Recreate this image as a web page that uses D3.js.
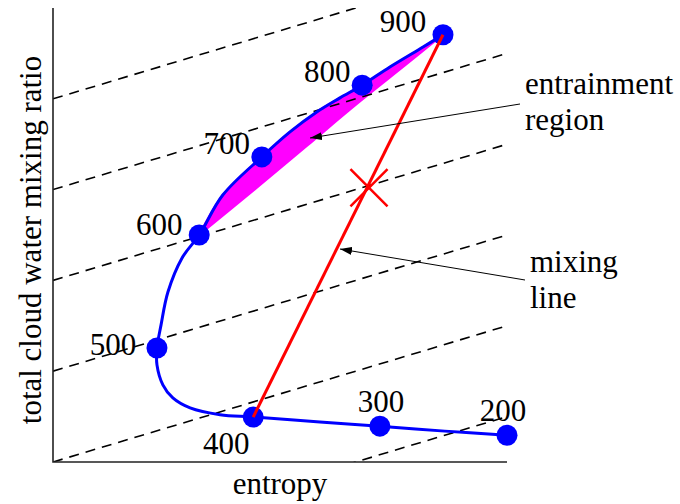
<!DOCTYPE html>
<html>
<head>
<meta charset="utf-8">
<script src="https://cdn.jsdelivr.net/npm/d3@7"></script>
<style>
  body { margin: 0; background: #fff; }
  svg text { font-family: "Liberation Serif", "Times New Roman", serif; fill: #000; }
</style>
</head>
<body>
<svg id="chart" width="680" height="504"></svg>
<script>
// pressure levels marked along the parcel path (entropy, total water), arbitrary units 0..10
const levels = [900, 800, 700, 600, 500, 400, 300, 200];
const levelEntropy = [8.59, 6.81, 4.60, 3.22, 2.29, 4.41, 7.20, 10.0];
const levelWater = [9.41, 8.30, 6.72, 5.00, 2.51, 0.99, 0.79, 0.59];

// the full traced path, from 900 down to 200
const pathEntropy = [8.59, 8.15, 7.42, 6.81, 6.32, 5.81, 5.22, 4.60, 3.74, 3.22,
  2.84, 2.53, 2.38, 2.29, 2.29, 2.42, 2.64, 3.02, 3.68, 4.41, 5.88, 7.20, 8.63, 10.0];
const pathWater = [9.41, 9.14, 8.70, 8.30, 8.02, 7.71, 7.27, 6.72, 5.88, 5.00,
  4.49, 3.74, 3.02, 2.51, 2.14, 1.70, 1.41, 1.19, 1.04, 0.99, 0.88, 0.79, 0.68, 0.59];

// lower edge of the entrainment region, from 600 up to 900
const regionEntropy = [3.22, 4.49, 5.59, 6.70, 7.80, 8.59];
const regionWater = [5.00, 6.04, 6.96, 7.89, 8.77, 9.41];

// mixed parcel on the mixing line
const mixPoint = [6.96, 6.04];

// background dashed lines: water = slope * entropy + intercept
const guideSlope = 0.3;
const guideIntercepts = [-2, 0, 2, 4, 6, 8];

const svg = d3.select('#chart');
const x = d3.scaleLinear().domain([0, 10]).range([53, 507]);
const y = d3.scaleLinear().domain([0, 10]).range([462, 8]);

const pathData = pathEntropy.map((e, i) => [e, pathWater[i]]);
const line = d3.line().x(d => x(d[0])).y(d => y(d[1])).curve(d3.curveCatmullRom.alpha(0.5));

svg.append('clipPath').attr('id', 'plot-clip')
  .append('rect')
  .attr('x', x(0)).attr('y', y(10))
  .attr('width', x(10) - x(0)).attr('height', y(0) - y(10));

// entrainment region: upper path 600 -> 900 plus lower edge back
let upper = pathData.slice(0, 10).reverse();
let lower = regionEntropy.map((e, i) => [e, regionWater[i]]).reverse();
let regionPath = line(upper) + 'L' + line(lower).slice(1) + 'Z';
svg.append('path')
  .attr('d', regionPath)
  .attr('fill', '#ff00ff')
  .attr('stroke', '#ff00ff')
  .attr('stroke-width', 2);

// level labels
const labelOffsets = [[-40, -3], [-35, -3], [-35, -3], [-40, 0], [-44, 7], [-27, 37], [1, -14], [-4, -14]];
levels.forEach((lv, i) => {
  svg.append('text')
    .attr('x', x(levelEntropy[i]) + labelOffsets[i][0])
    .attr('y', y(levelWater[i]) + labelOffsets[i][1])
    .attr('text-anchor', 'middle')
    .attr('font-size', 31)
    .text(lv);
});

// dashed guides
const guides = svg.append('g').attr('clip-path', 'url(#plot-clip)');
guideIntercepts.forEach(c => {
  guides.append('line')
    .attr('x1', x(0)).attr('y1', y(c))
    .attr('x2', x(10)).attr('y2', y(c + guideSlope * 10))
    .attr('stroke', '#000')
    .attr('stroke-width', 1.6)
    .attr('stroke-dasharray', '10,7');
});

// axes (plain L frame, no ticks)
svg.append('path')
  .attr('d', `M${x(0)},${y(10)}V${y(0)}H${x(10)}`)
  .attr('fill', 'none')
  .attr('stroke', '#222')
  .attr('stroke-width', 1.6);

// parcel path
svg.append('path')
  .attr('d', line(pathData))
  .attr('fill', 'none')
  .attr('stroke', '#0000ff')
  .attr('stroke-width', 3);

svg.selectAll('circle.level')
  .data(levels)
  .join('circle')
  .attr('class', 'level')
  .attr('cx', (d, i) => x(levelEntropy[i]))
  .attr('cy', (d, i) => y(levelWater[i]))
  .attr('r', 10.5)
  .attr('fill', '#0000ff');

// mixing line between 900 and 400
svg.append('line')
  .attr('x1', x(levelEntropy[0])).attr('y1', y(levelWater[0]))
  .attr('x2', x(levelEntropy[5])).attr('y2', y(levelWater[5]))
  .attr('stroke', '#ff0000')
  .attr('stroke-width', 3);

svg.append('path')
  .attr('d', d3.symbol().type(d3.symbolX).size(900)())
  .attr('transform', `translate(${x(mixPoint[0])},${y(mixPoint[1])})`)
  .attr('fill', 'none')
  .attr('stroke', '#ff0000')
  .attr('stroke-width', 2.5);

// annotations
svg.append('defs').append('marker')
  .attr('id', 'arrow')
  .attr('viewBox', '0 0 12 8')
  .attr('refX', 12).attr('refY', 4)
  .attr('markerWidth', 12).attr('markerHeight', 8)
  .attr('markerUnits', 'userSpaceOnUse')
  .attr('orient', 'auto')
  .append('path')
  .attr('d', 'M0,0L12,4L0,8Z')
  .attr('fill', '#000');

const notes = [
  { lines: ['entrainment', 'region'], tx: 525, ty: 94, from: [520, 104], to: [310, 138] },
  { lines: ['mixing', 'line'], tx: 530, ty: 272, from: [525, 280], to: [340, 249] }
];
notes.forEach(n => {
  svg.append('line')
    .attr('x1', n.from[0]).attr('y1', n.from[1])
    .attr('x2', n.to[0]).attr('y2', n.to[1])
    .attr('stroke', '#000')
    .attr('stroke-width', 1)
    .attr('marker-end', 'url(#arrow)');
  n.lines.forEach((t, k) => {
    svg.append('text')
      .attr('x', n.tx)
      .attr('y', n.ty + k * 36)
      .attr('font-size', 31)
      .text(t);
  });
});

// axis titles
svg.append('text')
  .attr('x', (x(0) + x(10)) / 2)
  .attr('y', 494)
  .attr('text-anchor', 'middle')
  .attr('font-size', 31)
  .text('entropy');

svg.append('text')
  .attr('transform', 'translate(41,240) rotate(-90)')
  .attr('text-anchor', 'middle')
  .attr('font-size', 31)
  .text('total cloud water mixing ratio');
</script>
</body>
</html>
